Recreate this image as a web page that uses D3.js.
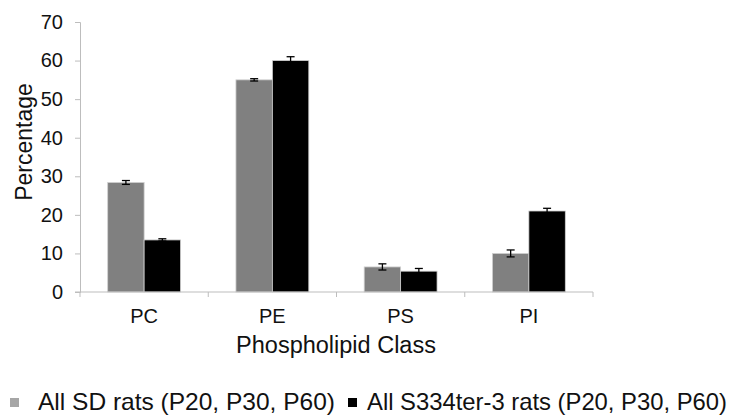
<!DOCTYPE html>
<html>
<head>
<meta charset="utf-8">
<script src="https://cdn.jsdelivr.net/npm/d3@7"></script>
<style>
  body { margin: 0; background: #fff; }
  text { font-family: "Liberation Sans", Arial, sans-serif; fill: #111; }
</style>
</head>
<body>
<svg id="chart" width="730" height="415"></svg>
<script>
const categories = ['PC', 'PE', 'PS', 'PI'];
const seriesNames = ['All SD rats (P20, P30, P60)', 'All S334ter-3 rats (P20, P30, P60)'];
const sdValues = [28.4, 55.0, 6.5, 10.0];
const sdErrors = [0.5, 0.3, 0.8, 0.9];
const s334Values = [13.5, 60.0, 5.4, 21.0];
const s334Errors = [0.3, 1.0, 0.7, 0.7];
const yTicks = [0, 10, 20, 30, 40, 50, 60, 70];
const colors = ['#808080', '#000000'];

const svg = d3.select('#chart');
const margin = { left: 80, right: 137, top: 22, bottom: 123 };
const width = +svg.attr('width');
const height = +svg.attr('height');

const x = d3.scaleBand()
  .domain(categories)
  .range([margin.left, width - margin.right])
  .paddingInner(0)
  .paddingOuter(0);

const x1 = d3.scaleBand()
  .domain([0, 1])
  .range([0, x.bandwidth()])
  .paddingOuter(0.76);

const y = d3.scaleLinear()
  .domain([0, 70])
  .range([height - margin.bottom, margin.top]);

const rows = categories.map((c, i) => ({
  cat: c,
  vals: [
    { s: 0, v: sdValues[i], e: sdErrors[i] },
    { s: 1, v: s334Values[i], e: s334Errors[i] }
  ]
}));

// bars
const groups = svg.selectAll('g.grp')
  .data(rows)
  .enter()
    .append('g')
    .attr('class', 'grp')
    .attr('transform', (d) => `translate(${x(d.cat)},0)`);

groups.selectAll('rect')
  .data((d) => d.vals)
  .enter()
    .append('rect')
    .attr('x', (d) => x1(d.s))
    .attr('y', (d) => y(d.v))
    .attr('width', x1.bandwidth())
    .attr('height', (d) => y(0) - y(d.v))
    .attr('fill', (d) => colors[d.s])
    .attr('stroke', '#d0d0d0')
    .attr('stroke-width', 0.8);

// error bars
const capW = 4;
const err = groups.selectAll('g.err')
  .data((d) => d.vals)
  .enter()
    .append('g')
    .attr('class', 'err')
    .attr('stroke', '#000')
    .attr('stroke-width', 1.3);

err.append('line')
  .attr('x1', (d) => x1(d.s) + x1.bandwidth() / 2)
  .attr('x2', (d) => x1(d.s) + x1.bandwidth() / 2)
  .attr('y1', (d) => y(d.v - d.e))
  .attr('y2', (d) => y(d.v + d.e));
err.append('line')
  .attr('x1', (d) => x1(d.s) + x1.bandwidth() / 2 - capW)
  .attr('x2', (d) => x1(d.s) + x1.bandwidth() / 2 + capW)
  .attr('y1', (d) => y(d.v + d.e))
  .attr('y2', (d) => y(d.v + d.e));
err.append('line')
  .attr('x1', (d) => x1(d.s) + x1.bandwidth() / 2 - capW)
  .attr('x2', (d) => x1(d.s) + x1.bandwidth() / 2 + capW)
  .attr('y1', (d) => y(d.v - d.e))
  .attr('y2', (d) => y(d.v - d.e));

// y axis
const yAxis = svg.append('g')
  .attr('transform', `translate(${margin.left},0)`)
  .call(d3.axisLeft(y).tickValues(yTicks).tickSize(5).tickPadding(12));
yAxis.select('.domain').attr('stroke', '#bdbdbd');
yAxis.selectAll('.tick line').attr('stroke', '#bdbdbd');
yAxis.selectAll('.tick text')
  .attr('font-size', 20)
  .attr('font-family', '"Liberation Sans", Arial, sans-serif')
  .attr('fill', '#111');

// x axis: baseline + boundary ticks
const xAxis = svg.append('g');
xAxis.append('line')
  .attr('x1', margin.left - 5)
  .attr('x2', width - margin.right)
  .attr('y1', y(0))
  .attr('y2', y(0))
  .attr('stroke', '#bdbdbd');
const bounds = categories.map((c) => x(c)).concat([x(categories[categories.length - 1]) + x.bandwidth()]);
xAxis.selectAll('line.tk')
  .data(bounds)
  .enter()
    .append('line')
    .attr('class', 'tk')
    .attr('x1', (d) => d)
    .attr('x2', (d) => d)
    .attr('y1', y(0))
    .attr('y2', y(0) + 5)
    .attr('stroke', '#bdbdbd');
xAxis.selectAll('text')
  .data(categories)
  .enter()
    .append('text')
    .attr('x', (d) => x(d) + x.bandwidth() / 2)
    .attr('y', 323)
    .attr('text-anchor', 'middle')
    .attr('font-size', 20)
    .text((d) => d);

// axis titles
svg.append('text')
  .attr('x', 336)
  .attr('y', 353)
  .attr('text-anchor', 'middle')
  .attr('font-size', 23.5)
  .text('Phospholipid Class');

svg.append('text')
  .attr('transform', `translate(32,142) rotate(-90)`)
  .attr('text-anchor', 'middle')
  .attr('font-size', 23)
  .text('Percentage');

// legend
const legend = svg.append('g').attr('transform', 'translate(0,410)');
const legendX = [10, 348];
const legendW = [297, 360];
const lg = legend.selectAll('g')
  .data(seriesNames)
  .enter()
    .append('g')
    .attr('transform', (d, i) => `translate(${legendX[i]},0)`);
lg.append('rect')
  .attr('x', 0)
  .attr('y', -12)
  .attr('width', 9)
  .attr('height', 9)
  .attr('fill', (d, i) => i === 0 ? '#a6a6a6' : '#000');
lg.append('text')
  .attr('x', (d, i) => i === 0 ? 28 : 19)
  .attr('y', 0)
  .attr('font-size', 24)
  .attr('textLength', (d, i) => legendW[i])
  .attr('lengthAdjust', 'spacingAndGlyphs')
  .text((d) => d);
</script>
</body>
</html>
